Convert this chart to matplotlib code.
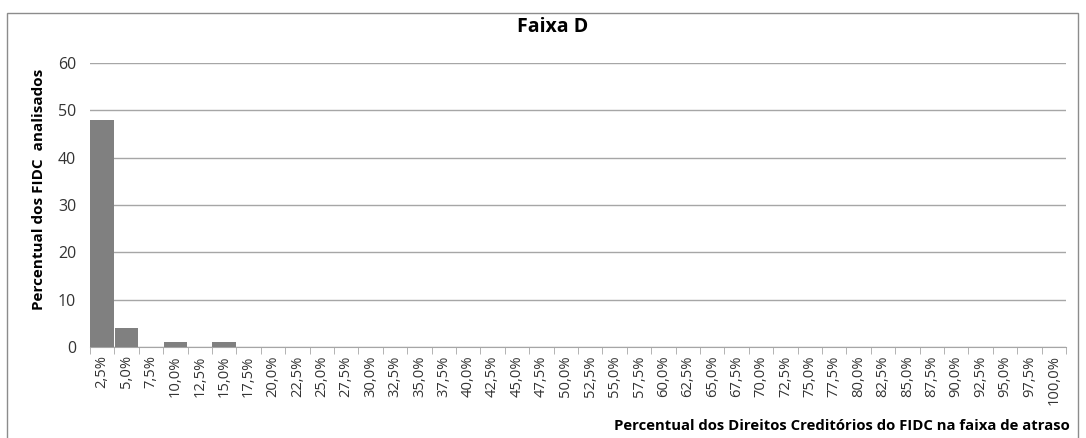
import matplotlib
matplotlib.use("Agg")
import matplotlib.pyplot as plt
import numpy as np
from matplotlib.patches import Rectangle

# categories: 2,5% .. 100,0%
categories = ["2,5%", "5,0%", "7,5%", "10,0%", "12,5%", "15,0%", "17,5%", "20,0%",
              "22,5%", "25,0%", "27,5%", "30,0%", "32,5%", "35,0%", "37,5%", "40,0%",
              "42,5%", "45,0%", "47,5%", "50,0%", "52,5%", "55,0%", "57,5%", "60,0%",
              "62,5%", "65,0%", "67,5%", "70,0%", "72,5%", "75,0%", "77,5%", "80,0%",
              "82,5%", "85,0%", "87,5%", "90,0%", "92,5%", "95,0%", "97,5%", "100,0%"]
values = [48, 4, 0, 1, 0, 1] + [0] * 34
yticks = [0, 10, 20, 30, 40, 50, 60]

plt.rcParams["font.family"] = ["Open Sans", "DejaVu Sans"]

fig = plt.figure(figsize=(10.86, 4.38), dpi=100)
ax = fig.add_axes([0.0829, 0.2078, 0.9816 - 0.0829, 0.8562 - 0.2078])

x = np.arange(len(categories))
ax.bar(x, values, width=0.97, color="#808080", zorder=3)

ax.set_xlim(-0.5, len(categories) - 0.5)
ax.set_ylim(0, 60)
ax.set_yticks(yticks)
ax.yaxis.grid(True, color="#a6a6a6", linewidth=1.0, zorder=0)
ax.set_xticks(x)
ax.set_xticklabels(categories, rotation=90, fontsize=10.6, color="#333333")
ax.tick_params(axis="x", length=0, pad=6)
ax.set_xticks(np.arange(-0.5, len(categories), 1), minor=True)
ax.tick_params(axis="x", which="minor", length=5, color="#a6a6a6", direction="out")
ax.tick_params(axis="y", length=0, labelsize=11.5, colors="#333333", pad=10)

for s in ["top", "right", "left"]:
    ax.spines[s].set_visible(False)
ax.spines["bottom"].set_color("#a6a6a6")

ax.set_ylabel("Percentual dos FIDC  analisados", fontsize=11, fontweight="bold")
ax.yaxis.set_label_coords(-0.045, 0.555)
fig.text(0.509, 0.938, "Faixa D", ha="center", va="center", fontsize=14, fontweight="bold")
fig.text(0.985, 0.028, "Percentual dos Direitos Creditórios do FIDC na faixa de atraso",
         ha="right", va="center", fontsize=10.7, fontweight="bold")

# outer chart frame
fig.patches.append(Rectangle((7 / 1086, -0.05), (1078 - 7) / 1086, 1 - 13 / 438 + 0.05,
                             transform=fig.transFigure, fill=False,
                             edgecolor="#8c8c8c", linewidth=1.0))

fig.savefig("out.png", dpi=100)
